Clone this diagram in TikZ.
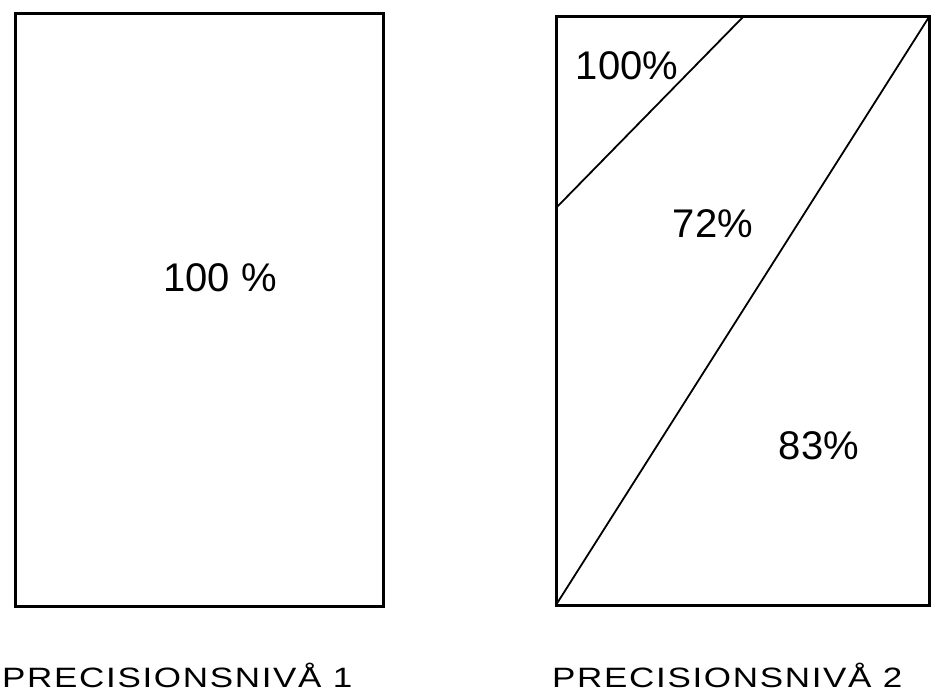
\documentclass[tikz,border=0pt]{standalone}
\usepackage{fontspec}
\setmainfont{Liberation Sans}
\newfontfamily\lvlfont[FakeStretch=1.25,LetterSpace=6]{Liberation Sans}
\usetikzlibrary{calc}
\tikzset{
  frm/.style ={draw=black,line width=3pt,line join=miter},
  cut/.style ={draw=black,line width=1.8pt},
  pct/.style ={font=\fontsize{40}{44}\selectfont,inner sep=0pt,anchor=base},
  lvl/.style ={font=\lvlfont\fontsize{28}{32}\selectfont,inner sep=0pt,anchor=base west},
}

\begin{document}
\begin{tikzpicture}[x=1pt,y=-1pt]
\useasboundingbox (0,0) rectangle (935,700);

% ===== level 1: one field ===================================================
\coordinate (p1nw) at (15,14);
\coordinate (p1se) at (383,606);
\draw[frm] (p1nw) rectangle (p1se);
\node[pct] (p1all) at (220,292) {100 \%};
\node[lvl] (p1lbl) at (2,687) {PRECISIONSNIVÅ 1};

% ===== level 2: three fields ================================================
\coordinate (p2nw) at (556,17);
\coordinate (p2se) at (929,605);
\coordinate (p2sw) at (p2nw |- p2se);
\coordinate (p2ne) at (p2se |- p2nw);
\coordinate (cutL) at (556,208);
\coordinate (cutT) at (743,17);
\draw[frm] (p2nw) rectangle (p2se);
\draw[cut] (cutL) -- (cutT);
\draw[cut] (p2sw) -- (p2ne);
\node[pct] (p2top) at (627,80)  {100\%};
\node[pct] (p2mid) at (713,238) {72\%};
\node[pct] (p2low) at (819,460) {83\%};
\node[lvl] (p2lbl) at (552,687) {PRECISIONSNIVÅ 2};
\end{tikzpicture}
\end{document}
